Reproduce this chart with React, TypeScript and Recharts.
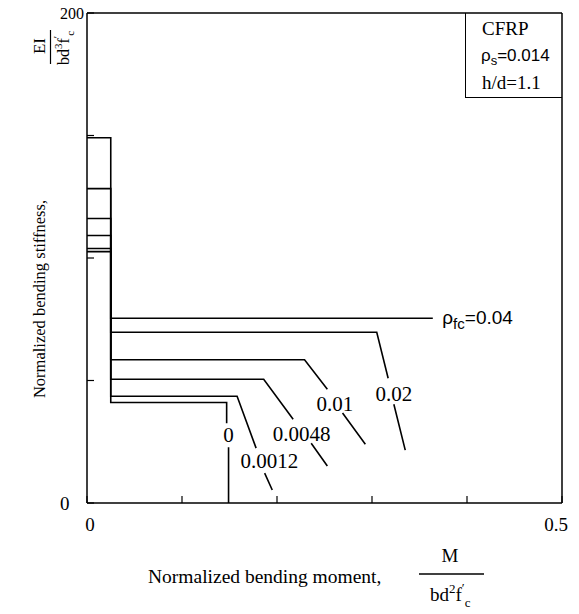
import React from "react";
import { LineChart, Line, XAxis, YAxis, ReferenceLine, ReferenceDot } from "recharts";

// reinforcement ratio of the FRP (one curve each)
const rhoNames = ["0", "0.0012", "0.0048", "0.01", "0.02", "0.04"];

// normalized moment / stiffness along each curve (null = gap where the label sits)
const m0 = [0, 0.025, 0.025, 0.147, 0.147, 0.148, 0.149, 0.149];
const ei0 = [102.6, 102.6, 41, 41, 32.6, null, 22.8, 0];
const m0012 = [0, 0.025, 0.025, 0.158, 0.178, 0.182, 0.187, 0.195];
const ei0012 = [103.9, 103.9, 43.6, 43.6, 22.4, null, 12.2, 5.3];
const m0048 = [0, 0.025, 0.025, 0.186, 0.217, 0.226, 0.236, 0.253];
const ei0048 = [109.2, 109.2, 50.5, 50.5, 34.2, null, 24.4, 15.1];
const m001 = [0, 0.025, 0.025, 0.229, 0.253, 0.261, 0.269, 0.293];
const ei001 = [116.1, 116.1, 58.5, 58.5, 46.4, null, 36.7, 24.0];
const m002 = [0, 0.025, 0.025, 0.305, 0.317, 0.32, 0.323, 0.335];
const ei002 = [128.3, 128.3, 69.7, 69.7, 50.9, null, 40.3, 21.6];
const m004 = [0, 0.025, 0.025, 0.364];
const ei004 = [149.1, 149.1, 75.4, 75.4];

// where the curve labels sit (moment, stiffness)
const labelM = [0.149, 0.192, 0.226, 0.261, 0.323];
const labelEI = [28.1, 17.5, 28.5, 40.7, 44.8];

const xTicks = [0, 0.1, 0.2, 0.3, 0.4, 0.5];
const yTicks = [0, 50, 100, 150, 200];

const SERIF = "'Liberation Serif', 'DejaVu Serif', serif";
const SANS = "'Liberation Sans', Arial, sans-serif";

const curves = [
  [m0, ei0],
  [m0012, ei0012],
  [m0048, ei0048],
  [m001, ei001],
  [m002, ei002],
  [m004, ei004],
].map(([ms, eis], i) => ({
  name: rhoNames[i],
  data: ms.map((m, j) => ({ m, ei: eis[j] })),
}));

const XTick = (props: any) => {
  const { x, y, payload } = props;
  const v = payload.value;
  if (v !== 0 && v !== 0.5) return null;
  return (
    <text
      x={v === 0 ? x + 3 : x + 6}
      y={y}
      dy="0.75em"
      textAnchor={v === 0 ? "middle" : "end"}
      fontFamily={SERIF}
      fontSize={19}
      fill="#000"
    >
      {v === 0 ? "0" : "0.5"}
    </text>
  );
};

const YTick = (props: any) => {
  const { x, y, payload } = props;
  const v = payload.value;
  if (v !== 0 && v !== 200) return null;
  return (
    <text
      x={x}
      y={y}
      dy="0.35em"
      textAnchor="start"
      fontFamily={SERIF}
      fontSize={v === 200 ? 16 : 19}
      fill="#000"
    >
      {v}
    </text>
  );
};

const XTitle = () => (
  <g fontFamily={SERIF} fill="#000">
    <text x={148} y={583} fontSize={19.5}>
      Normalized bending moment,
    </text>
    <text x={450} y={562} fontSize={19} textAnchor="middle">
      M
    </text>
    <line x1={419} x2={484} y1={574} y2={574} stroke="#000" strokeWidth={1.3} />
    <text x={430} y={601} fontSize={19}>
      bd
      <tspan dy={-8} fontSize={13}>2</tspan>
      <tspan dy={8}>f</tspan>
      <tspan dy={-9} fontSize={13}>′</tspan>
      <tspan dy={15} fontSize={13}>c</tspan>
    </text>
  </g>
);

const YTitle = () => (
  <g transform="rotate(-90)" fontFamily={SERIF} fill="#000">
    <text x={-299} y={45} fontSize={16.5} textAnchor="middle">
      Normalized bending stiffness,
    </text>
    <text x={-46} y={45} fontSize={17} textAnchor="middle">
      EI
    </text>
    <line x1={-64} x2={-30} y1={50.5} y2={50.5} stroke="#000" strokeWidth={1.2} />
    <text x={-65} y={69} fontSize={16}>
      bd
      <tspan dy={-7} fontSize={11}>3</tspan>
      <tspan dy={7}>f</tspan>
      <tspan dy={-8} fontSize={11}>′</tspan>
      <tspan dy={13} fontSize={11}>c</tspan>
    </text>
  </g>
);

const RhoLabel = (props: any) => {
  const { viewBox } = props;
  const x = viewBox.x;
  const y = viewBox.y;
  return (
    <text x={x} y={y + 6} fontFamily={SANS} fontSize={19} fill="#000">
      ρ
      <tspan dy={5} fontSize={15}>fc</tspan>
      <tspan dy={-5}>=0.04</tspan>
    </text>
  );
};

export default function App() {
  return (
    <div style={{ position: "absolute", left: 0, top: 0, width: 579, height: 614, background: "#fff" }}>
      <LineChart width={579} height={614} margin={{ top: 13, right: 17, bottom: 71, left: 0 }}>
        <XAxis
          type="number"
          dataKey="m"
          domain={[0, 0.5]}
          ticks={xTicks}
          allowDuplicatedCategory={false}
          height={40}
          axisLine={{ stroke: "#000", strokeWidth: 1.5 }}
          tickLine={{ stroke: "#000", strokeWidth: 1.2 }}
          tickSize={-7}
          tickMargin={21}
          tick={<XTick />}
          label={{ content: () => <XTitle /> }}
        />
        <YAxis
          type="number"
          dataKey="ei"
          domain={[0, 200]}
          ticks={yTicks}
          width={87}
          axisLine={{ stroke: "#000", strokeWidth: 1.5 }}
          tickLine={{ stroke: "#000", strokeWidth: 1.2 }}
          tickSize={-7}
          tickMargin={34}
          tick={<YTick />}
          label={{ content: () => <YTitle /> }}
        />
        <ReferenceLine y={200} stroke="#000" strokeWidth={1.5} />
        <ReferenceLine x={0.5} stroke="#000" strokeWidth={1.5} />
        {curves.map((c) => (
          <Line
            key={c.name}
            data={c.data}
            dataKey="ei"
            type="linear"
            stroke="#000"
            strokeWidth={1.6}
            dot={false}
            activeDot={false}
            connectNulls={false}
            isAnimationActive={false}
          />
        ))}
        {labelM.map((m, i) => (
          <ReferenceDot
            key={rhoNames[i]}
            x={m}
            y={labelEI[i]}
            r={0}
            stroke="none"
            fill="none"
            label={{ value: rhoNames[i], position: "center", fill: "#000", fontSize: 21, fontFamily: SERIF }}
          />
        ))}
        <ReferenceDot x={0.374} y={75.4} r={0} stroke="none" fill="none" label={<RhoLabel />} />
      </LineChart>
      <div
        style={{
          position: "absolute",
          left: 465,
          top: 13,
          width: 97,
          height: 85,
          border: "1.5px solid #000",
          borderTop: "none",
          borderRight: "none",
          boxSizing: "border-box",
          color: "#000",
        }}
      >
        <div style={{ position: "absolute", left: 16, top: 5, fontFamily: SERIF, fontSize: 19, lineHeight: "22px" }}>CFRP</div>
        <div style={{ position: "absolute", left: 15, top: 32, fontFamily: SANS, fontSize: 17, lineHeight: "22px", whiteSpace: "nowrap" }}>
          ρ<sub style={{ fontSize: 13, verticalAlign: "-4px", lineHeight: 0 }}>s</sub>=0.014
        </div>
        <div style={{ position: "absolute", left: 16, top: 59, fontFamily: SERIF, fontSize: 19, lineHeight: "22px", whiteSpace: "nowrap" }}>h/d=1.1</div>
      </div>
    </div>
  );
}
